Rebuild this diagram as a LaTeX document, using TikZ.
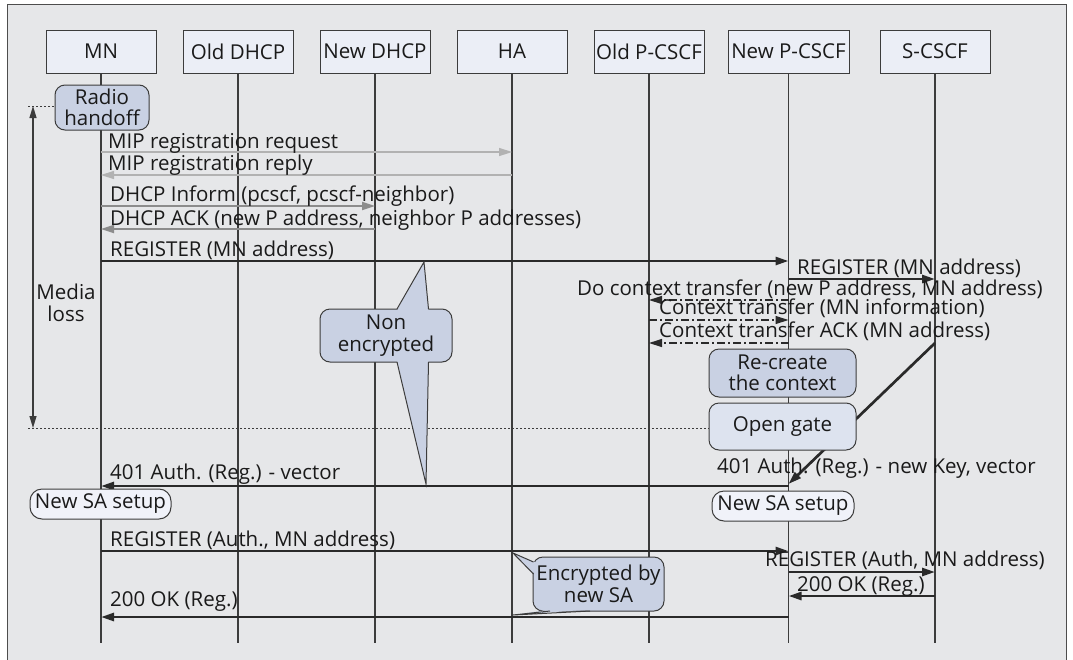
\documentclass[tikz,border=0pt]{standalone}
\usepackage{fontspec}
\setmainfont{Open Sans}
\usetikzlibrary{arrows.meta}
\definecolor{bgc}{HTML}{E6E7E9}
\definecolor{framec}{HTML}{4D4D4D}
\definecolor{hdrfill}{HTML}{EBEEF6}
\definecolor{procfill}{HTML}{C9D1E3}
\definecolor{gatefill}{HTML}{DDE3EF}
\definecolor{safill}{HTML}{F0F2F9}
\definecolor{linec}{HTML}{3C3C3C}
\definecolor{darkc}{HTML}{2A2A2A}
\definecolor{mipc}{HTML}{B2B2B2}
\definecolor{dhcpc}{HTML}{8C8C8C}
\definecolor{txtc}{HTML}{1A1A1A}
\tikzset{
  hdr/.style={draw=linec, fill=hdrfill, line width=1pt, minimum width=110pt, minimum height=43pt, inner sep=0pt, text=txtc},
  life/.style={draw=linec, line width=1.2pt},
  tipend/.style={-{Triangle[length=13pt,width=8pt]}},
  heavy/.style={tipend, draw=darkc, line width=2.7pt},
  mipmsg/.style={tipend, draw=mipc, line width=1.5pt},
  dhcpmsg/.style={tipend, draw=dhcpc, line width=1.8pt},
  ctxmsg/.style={tipend, draw=darkc, line width=1.3pt, dash pattern=on 8pt off 3pt on 2pt off 3pt},
  lbl/.style={anchor=base west, inner sep=0pt, text=txtc},
  proc/.style={draw=linec, fill=procfill, line width=1pt, rounded corners=10pt, align=center, inner sep=0pt, text=txtc},
  gate/.style={proc, fill=gatefill},
  sabox/.style={draw=linec, fill=safill, line width=1pt, rounded corners=12pt, inner sep=0pt, text=txtc},
  dotln/.style={draw=linec, line width=1pt, dash pattern=on 2pt off 2pt},
  tailfill/.style={fill=procfill},
  tailline/.style={draw=linec, line width=1pt, line join=miter},
}
\begin{document}
\begin{tikzpicture}[x=1pt, y=-1pt, font=\fontsize{20.5}{21.5}\selectfont]
\clip (0,0) rectangle (1073,659);
\fill[white] (0,0) rectangle (1073,659);
\filldraw[fill=bgc, draw=framec, line width=1pt] (7.5,4) rectangle (1066,670);

% headers
\node[hdr] (mn) at (101,51.5) {MN};
\node[hdr] (od) at (238,51.5) {Old DHCP};
\node[hdr] (nd) at (375,51.5) {New DHCP};
\node[hdr] (ha) at (512,51.5) {HA};
\node[hdr] (op) at (649,51.5) {Old P-CSCF};
\node[hdr, minimum width=121pt] (np) at (788.5,51.5) {New P-CSCF};
\node[hdr] (sc) at (935,51.5) {S-CSCF};

% lifelines
\foreach \n in {mn,od,nd,ha,op,np,sc}{
  \draw[life] (\n.south) -- (\n |- 0,643);
}

% media loss
\coordinate (mltop) at (33,106);
\coordinate (mlbot) at (33,428);
\draw[linec, line width=1.2pt, {Triangle[length=12pt,width=7pt]}-{Triangle[length=12pt,width=7pt]}] (mltop) -- (mlbot);
\node[align=center, inner sep=0pt, text=txtc] (ml) at (66,303) {Media\\loss};

% gray messages
\draw[mipmsg] (mn |- 0,152) -- (ha |- 0,152);
\draw[mipmsg] (ha |- 0,175) -- (mn |- 0,175);
\draw[dhcpmsg] (mn |- 0,206) -- (nd |- 0,206);
\draw[dhcpmsg] (nd |- 0,229) -- (mn |- 0,229);

% heavy messages
\draw[heavy] (mn |- 0,261) -- (np |- 0,261);
\draw[heavy] (np |- 0,279) -- (sc |- 0,279);
\draw[ctxmsg] (np |- 0,300) -- (op |- 0,300);
\draw[ctxmsg] (op |- 0,320) -- (np |- 0,320);
\draw[ctxmsg] (np |- 0,343) -- (op |- 0,343);
\draw[heavy] (sc |- 0,343) -- (np |- 0,484);
\draw[heavy] (np |- 0,486) -- (mn |- 0,486);
\draw[heavy] (mn |- 0,551) -- (np |- 0,551);
\draw[heavy] (np |- 0,572) -- (sc |- 0,572);
\draw[heavy] (sc |- 0,596) -- (np |- 0,596);
\draw[heavy] (np |- 0,617) -- (mn |- 0,617);

% process boxes
\node[proc, minimum width=94pt, minimum height=45pt] (rh) at (102,107.5) {Radio\\handoff};
\node[proc, minimum width=147pt, minimum height=48pt] (rc) at (782.5,373) {Re-create\\the context};
\node[gate, minimum width=147pt, minimum height=47pt] (og) at (782.5,426.5) {Open gate};
\node[sabox, minimum width=141pt, minimum height=30pt] (sa1) at (100.5,504) {New SA setup};
\node[sabox, minimum width=142pt, minimum height=30pt] (sa2) at (783,506) {New SA setup};

% dotted lines
\draw[dotln] (28,106) -- (rh.west |- 0,106);
\draw[dotln] (28,428) -- (og.west |- 0,428);

% callout: non encrypted
\node[proc, minimum width=132pt, minimum height=53pt] (nonenc) at (386,335.5) {Non\\encrypted};
\fill[tailfill] (397,310.5) -- (424,262) -- (428.5,310.5) -- cycle;
\draw[tailline] (397,309) -- (424,262) -- (428.5,309);
\fill[tailfill] (397,360.5) -- (426,484) -- (428.5,360.5) -- cycle;
\draw[tailline] (397,362) -- (426,484) -- (428.5,362);

% callout: encrypted by new SA
\node[proc, minimum width=131pt, minimum height=54pt] (enc) at (598.5,584) {Encrypted by\\new SA};
\fill[tailfill] (535,562) -- (513,553) -- (535,574) -- cycle;
\draw[tailline] (533.5,562) -- (513,553) -- (533.5,574);
\fill[tailfill] (550,609.5) -- (513,615) -- (590,609.5) -- cycle;
\draw[tailline] (550,611) -- (513,615) -- (590,611);

% labels
\node[lbl] (l1) at (108,148) {MIP registration request};
\node[lbl] (l2) at (108,170) {MIP registration reply};
\node[lbl] (l3) at (110,201) {DHCP Inform (pcscf, pcscf-neighbor)};
\node[lbl] (l4) at (110,225) {DHCP ACK (new P address, neighbor P addresses)};
\node[lbl] (l5) at (110,256) {REGISTER (MN address)};
\node[lbl] (l6) at (797,274) {REGISTER (MN address)};
\node[lbl] (l7) at (577,295) {Do context transfer (new P address, MN address)};
\node[lbl] (l8) at (659,314.5) {Context transfer (MN information)};
\node[lbl] (l9) at (659,337) {Context transfer ACK (MN address)};
\node[lbl] (l10) at (717,473) {401 Auth. (Reg.) - new Key, vector};
\node[lbl] (l11) at (110,479) {401 Auth. (Reg.) - vector};
\node[lbl] (l12) at (110,546) {REGISTER (Auth., MN address)};
\node[lbl] (l13) at (765,566) {REGISTER (Auth, MN address)};
\node[lbl] (l14) at (797,591) {200 OK (Reg.)};
\node[lbl] (l15) at (110,606) {200 OK (Reg.)};
\end{tikzpicture}
\end{document}
